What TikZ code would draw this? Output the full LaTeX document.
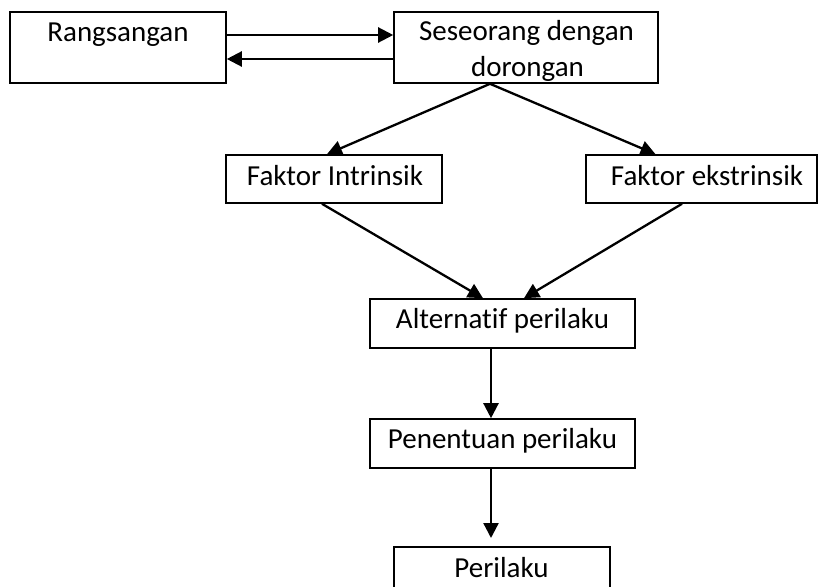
\documentclass[tikz,border=0pt]{standalone}
\usepackage{fontspec}
\setmainfont{Carlito}[Ligatures=NoCommon]
\usetikzlibrary{arrows.meta}
\begin{document}
\begin{tikzpicture}[x=1pt,y=-1pt,
  box/.style={draw, line width=1.6pt, inner sep=0pt},
  lbl/.style={anchor=base, inner sep=0pt, font=\fontsize{29}{35}\selectfont},
  conn/.style={line width=2.3pt, -{Triangle[length=15pt,width=15pt]}}]
\clip (0,0) rectangle (818,586);
% boxes
\node[box, minimum width=216pt, minimum height=71pt] (r) at (118,47.5) {};
\node[box, minimum width=264pt, minimum height=71pt] (s) at (526,47.5) {};
\node[box, minimum width=216pt, minimum height=48pt] (fi) at (334,179) {};
\node[box, minimum width=231pt, minimum height=48pt] (fe) at (701.5,179) {};
\node[box, minimum width=265pt, minimum height=49pt] (a) at (502.5,323.5) {};
\node[box, minimum width=265pt, minimum height=49pt] (p) at (502.5,443.5) {};
\node[box, minimum width=216pt, minimum height=49pt] (pr) at (502,571.5) {};
% labels
\node[lbl] (tr) at (118,41.5) {Rangsangan};
\node[lbl] (ts1) at (526.5,41) {Seseorang dengan};
\node[lbl] (ts2) at (527.5,76) {dorongan};
\node[lbl] (tfi) at (335,185) {Faktor Intrinsik};
\node[lbl] (tfe) at (707,185) {Faktor ekstrinsik};
\node[lbl] (ta) at (502.5,328) {Alternatif perilaku};
\node[lbl] (tp) at (502.5,448) {Penentuan perilaku};
\node[lbl] (tpr) at (501.5,577) {Perilaku};
% connectors
\draw[conn] ([yshift=12.5pt]r.east) -- ([yshift=12.5pt]s.west);
\draw[conn] ([yshift=-11.5pt]s.west) -- ([yshift=-11.5pt]r.east);
\draw[conn] ([xshift=-36pt]s.south) -- ([xshift=-7pt]fi.north);
\draw[conn] ([xshift=-36pt]s.south) -- ([xshift=-46pt]fe.north);
\draw[conn] ([xshift=-12pt]fi.south) -- ([xshift=-19.5pt]a.north);
\draw[conn] ([xshift=-19.5pt]fe.south) -- ([xshift=21.5pt]a.north);
\draw[conn] ([xshift=-11.5pt]a.south) -- ([xshift=-11.5pt]p.north);
\coordinate (pend) at (491,538);
\draw[conn] ([xshift=-11.5pt]p.south) -- (pend);
\end{tikzpicture}
\end{document}
